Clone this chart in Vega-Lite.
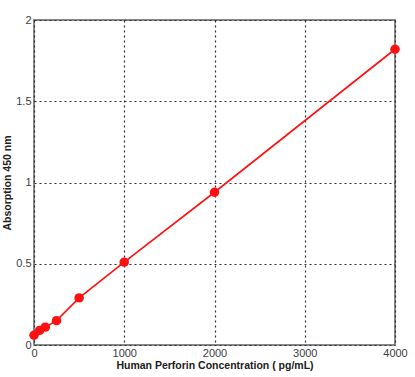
{
  "$schema": "https://vega.github.io/schema/vega-lite/v6.json",
  "width": 361,
  "height": 325,
  "autosize": {"type": "none"},
  "padding": {"left": 34, "top": 20, "right": 20, "bottom": 32},
  "background": "white",
  "config": {
    "view": {"stroke": "#606060", "strokeWidth": 1.5},
    "font": "Liberation Sans"
  },
  "data": {
    "values": [
      {"conc": 0, "abs": 0.06},
      {"conc": 62.5, "abs": 0.09},
      {"conc": 125, "abs": 0.11},
      {"conc": 250, "abs": 0.15},
      {"conc": 500, "abs": 0.29},
      {"conc": 1000, "abs": 0.51},
      {"conc": 2000, "abs": 0.94},
      {"conc": 4000, "abs": 1.82}
    ]
  },
  "encoding": {
    "x": {
      "field": "conc",
      "type": "quantitative",
      "scale": {"domain": [0, 4000], "nice": false},
      "axis": {
        "title": "Human Perforin Concentration ( pg/mL)",
        "titleFont": "Liberation Sans",
        "titleFontSize": 10.5,
        "titleFontWeight": "bold",
        "titleColor": "#202020",
        "titlePadding": 2,
        "values": [0, 1000, 2000, 3000, 4000],
        "format": "d",
        "labelFontSize": 11,
        "labelColor": "#404040",
        "labelPadding": 2,
        "labelFlush": false,
        "ticks": false,
        "domain": false,
        "grid": true,
        "gridColor": "#303030",
        "gridDash": [2, 3],
        "gridWidth": 1.2
      }
    },
    "y": {
      "field": "abs",
      "type": "quantitative",
      "scale": {"domain": [0, 2], "nice": false},
      "axis": {
        "title": "Absorption 450 nm",
        "titleFont": "Liberation Sans",
        "titleFontSize": 10.5,
        "titleFontWeight": "bold",
        "titleColor": "#202020",
        "titlePadding": 3,
        "values": [0, 0.5, 1, 1.5, 2],
        "format": "~g",
        "labelFontSize": 11,
        "labelColor": "#404040",
        "labelPadding": 3,
        "labelFlush": false,
        "ticks": false,
        "domain": false,
        "grid": true,
        "gridColor": "#303030",
        "gridDash": [2, 3],
        "gridWidth": 1.2
      }
    }
  },
  "layer": [
    {"mark": {"type": "line", "color": "#ff1010", "strokeWidth": 1.6}},
    {"mark": {"type": "point", "filled": true, "color": "#ff1010", "opacity": 1, "size": 90}}
  ]
}
